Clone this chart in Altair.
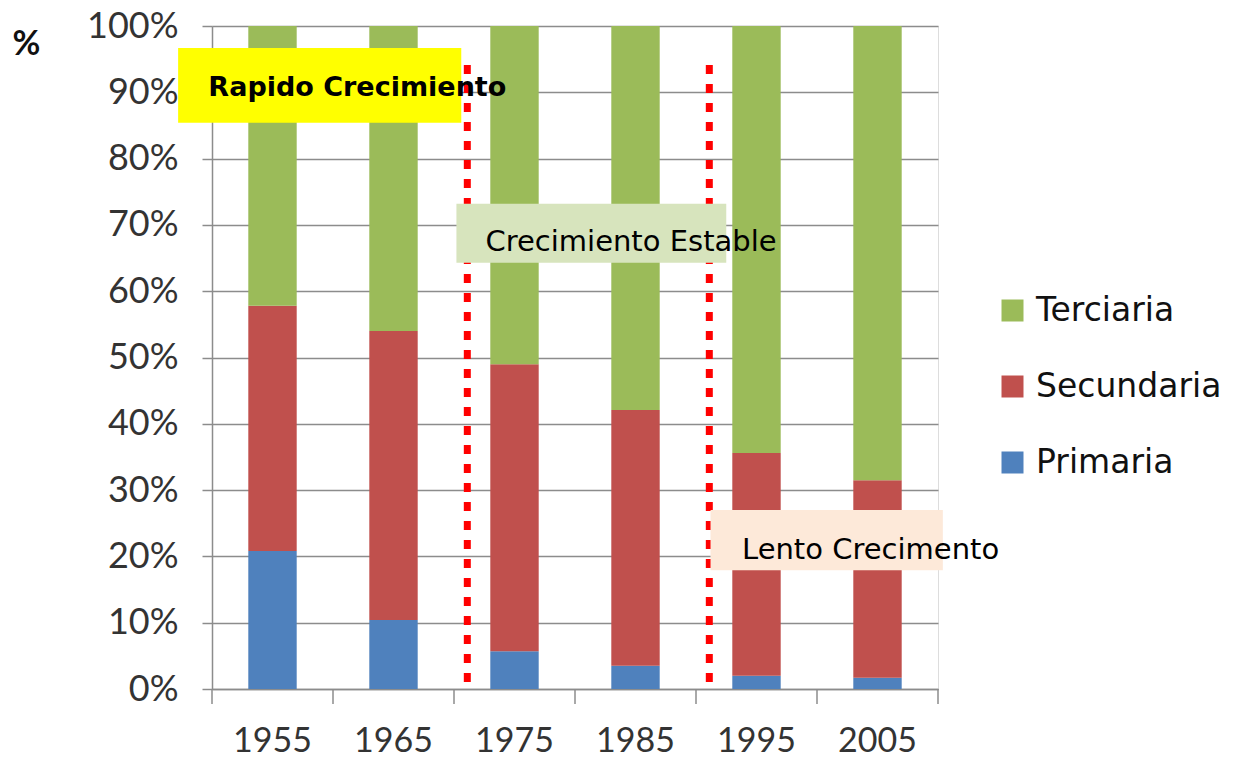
import altair as alt
import pandas as pd

# ---- data ----
years = ["1955", "1965", "1975", "1985", "1995", "2005"]
primaria = [20.8, 10.4, 5.7, 3.5, 2.0, 1.7]
secundaria = [37.0, 43.6, 43.3, 38.6, 33.6, 29.8]
terciaria = [42.2, 46.0, 51.0, 57.9, 64.4, 68.5]
sectors = ["Terciaria", "Secundaria", "Primaria"]
sector_colors = ["#9BBB59", "#C0504D", "#4F81BD"]
y_ticks = [0, 10, 20, 30, 40, 50, 60, 70, 80, 90, 100]

# category boundaries on a continuous year scale (1950-2010, one decade per bar)
x_boundaries = [1950, 1960, 1970, 1980, 1990, 2000, 2010]

# annotation positions in data units (continuous year, percent)
divider_x = [1971.1, 1991.1]
divider_top = [94.1, 94.1]
box_labels = ["Rapido Crecimiento", "Crecimiento Estable", "Lento Crecimento"]
box_x0 = [1947.2, 1970.2, 1991.2]
box_x1 = [1970.6, 1992.5, 2010.4]
box_y0 = [85.4, 64.3, 17.9]
box_y1 = [96.7, 73.2, 27.0]
box_fill = ["#FFFF00", "#D7E4BD", "#FDE9D9"]
text_x = [1949.7, 1972.6, 1993.8]
text_y = [90.6, 67.4, 21.0]

FONT = "Lato"
WIDE = "DejaVu Sans"
GRAY = "#8C8C8C"

rows = []
for i, yr in enumerate(years):
    rows.append({"year": yr, "sector": "Primaria", "value": primaria[i], "ord": 0})
    rows.append({"year": yr, "sector": "Secundaria", "value": secundaria[i], "ord": 1})
    rows.append({"year": yr, "sector": "Terciaria", "value": terciaria[i], "ord": 2})
df = pd.DataFrame(rows)

div_df = pd.DataFrame({"x": divider_x, "y0": [0, 0], "y1": divider_top})
tick_df = pd.DataFrame({"x": x_boundaries, "y0": [0] * len(x_boundaries),
                        "y1": [-2.26] * len(x_boundaries)})
box_df = pd.DataFrame({"label": box_labels, "x0": box_x0, "x1": box_x1,
                       "y0": box_y0, "y1": box_y1, "fill": box_fill,
                       "tx": text_x, "ty": text_y})

yscale = alt.Scale(domain=[0, 100], nice=False)
y_axis = alt.Axis(values=y_ticks, labelExpr="datum.value + '%'", title="%",
                  titleAngle=0, titleX=-186, titleY=18, titleAlign="center",
                  titleBaseline="middle", titleFontSize=34, titleFontWeight="bold",
                  titleFont=FONT, titleColor="#111111",
                  labelFontSize=36, labelFont=FONT, labelColor="#333333",
                  labelPadding=24, tickSize=10, tickColor=GRAY, tickWidth=1.5,
                  domainColor=GRAY, domainWidth=1.5,
                  grid=True, gridColor=GRAY, gridWidth=1.5)
qx = alt.Scale(domain=[1950, 2010], nice=False, zero=False)

bars = alt.Chart(df).mark_bar().encode(
    x=alt.X("year:N", sort=years,
            scale=alt.Scale(paddingInner=0.6, paddingOuter=0.3),
            axis=alt.Axis(title=None, labelAngle=0, labelFontSize=34, labelFont=FONT,
                          labelColor="#333333", labelPadding=20, tickSize=15,
                          tickOpacity=0, domainColor=GRAY, domainWidth=1.5, grid=False)),
    y=alt.Y("value:Q", stack="zero", scale=yscale, axis=y_axis),
    color=alt.Color("sector:N", scale=alt.Scale(domain=sectors, range=sector_colors),
                    legend=alt.Legend(title=None, orient="none", legendX=784, legendY=268,
                                      labelFontSize=33, labelFont=WIDE, labelColor="#111111",
                                      labelLimit=300,
                                      symbolType="square", symbolSize=484,
                                      symbolStrokeWidth=0, rowPadding=42, labelOffset=7)),
    order=alt.Order("ord:Q"),
)

xticks = alt.Chart(tick_df).mark_rule(color=GRAY, strokeWidth=1.5).encode(
    x=alt.X("x:Q", scale=qx, axis=None),
    y=alt.Y("y0:Q", scale=yscale, axis=y_axis),
    y2="y1:Q",
)

dividers = alt.Chart(div_df).mark_rule(color="#FF0000", strokeWidth=7, strokeDash=[9, 10]).encode(
    x=alt.X("x:Q", scale=qx, axis=None),
    y=alt.Y("y1:Q", scale=yscale, axis=y_axis),
    y2="y0:Q",
)

boxes = alt.Chart(box_df).mark_rect().encode(
    x=alt.X("x0:Q", scale=qx, axis=None),
    x2="x1:Q",
    y=alt.Y("y0:Q", scale=yscale, axis=y_axis),
    y2="y1:Q",
    fill=alt.Fill("fill:N", scale=None),
)


def label_layer(idx, size, weight):
    return alt.Chart(box_df).transform_filter(
        alt.datum.label == box_labels[idx]
    ).mark_text(align="left", baseline="middle", fontSize=size, font=WIDE,
                fontWeight=weight, color="#000000").encode(
        x=alt.X("tx:Q", scale=qx, axis=None),
        y=alt.Y("ty:Q", scale=yscale, axis=y_axis),
        text="label:N",
    )


texts = [label_layer(0, 27, "bold"), label_layer(1, 29, "normal"), label_layer(2, 29, "normal")]

chart = alt.layer(bars, xticks, dividers, boxes, *texts).resolve_scale(
    x="independent"
).properties(
    width=726, height=663,
    autosize=alt.AutoSizeParams(type="none"),
    padding={"left": 204, "top": 18, "right": 288, "bottom": 66},
).configure_view(stroke=None).configure(background="white")

chart.save("out.html", embed_options={"renderer": "svg", "actions": False})
